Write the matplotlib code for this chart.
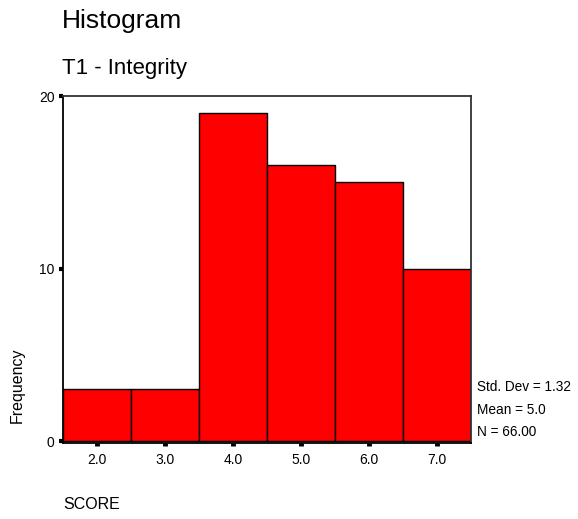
import matplotlib
matplotlib.use("Agg")
import matplotlib.pyplot as plt

# Score frequencies (bin centers and counts)
scores = [2.0, 3.0, 4.0, 5.0, 6.0, 7.0]
counts = [3, 3, 19, 16, 15, 10]
x_ticks = [2.0, 3.0, 4.0, 5.0, 6.0, 7.0]
x_tick_labels = ["2.0", "3.0", "4.0", "5.0", "6.0", "7.0"]
y_ticks = [0, 10, 20]
stats_lines = ["Std. Dev = 1.32", "Mean = 5.0", "N = 66.00"]

W, H = 578, 519
plt.rcParams['font.family'] = ['Liberation Sans', 'DejaVu Sans']

fig = plt.figure(figsize=(W / 100, H / 100), dpi=100)
fig.patch.set_facecolor("white")

def fx(px):
    return px / W

def fy(py):
    return 1 - py / H

left, right, top, bottom = 63, 471, 96, 443
ax = fig.add_axes([fx(left), fy(bottom), fx(right) - fx(left), fy(top) - fy(bottom)])

ax.bar(scores, counts, width=1.0, color="#FF0000", edgecolor="black", linewidth=1.0)

ax.set_xlim(1.5, 7.5)
ax.set_ylim(-0.1, 20)
ax.set_xticks(x_ticks)
ax.set_xticklabels(x_tick_labels, fontsize=10)
ax.set_yticks(y_ticks)
ax.set_yticklabels([str(v) for v in y_ticks], fontsize=10)
ax.tick_params(axis="x", direction="out", length=2.5, width=3.5, pad=5)
ax.tick_params(axis="y", direction="out", length=3, width=3, pad=3)

for side in ["left", "bottom"]:
    ax.spines[side].set_color("black")
    ax.spines[side].set_linewidth(1.3)
for side in ["top", "right"]:
    ax.spines[side].set_color("#333333")
    ax.spines[side].set_linewidth(1.3)

# Titles
fig.text(fx(62), fy(28), "Histogram", fontsize=19, ha="left", va="baseline")
fig.text(fx(62), fy(74), "T1 - Integrity", fontsize=16, ha="left", va="baseline")

# Axis titles
fig.text(fx(63), fy(509), "SCORE", fontsize=11.5, ha="left", va="baseline")
fig.text(fx(22), fy(423), "Frequency", fontsize=11.5, rotation=90,
         ha="left", va="baseline", rotation_mode="anchor")

# Summary statistics
for i, line in enumerate(stats_lines):
    fig.text(fx(477), fy(387 + 22.5 * i), line, fontsize=9.8, ha="left", va="center")

fig.savefig("out.png", dpi=100, facecolor="white")
